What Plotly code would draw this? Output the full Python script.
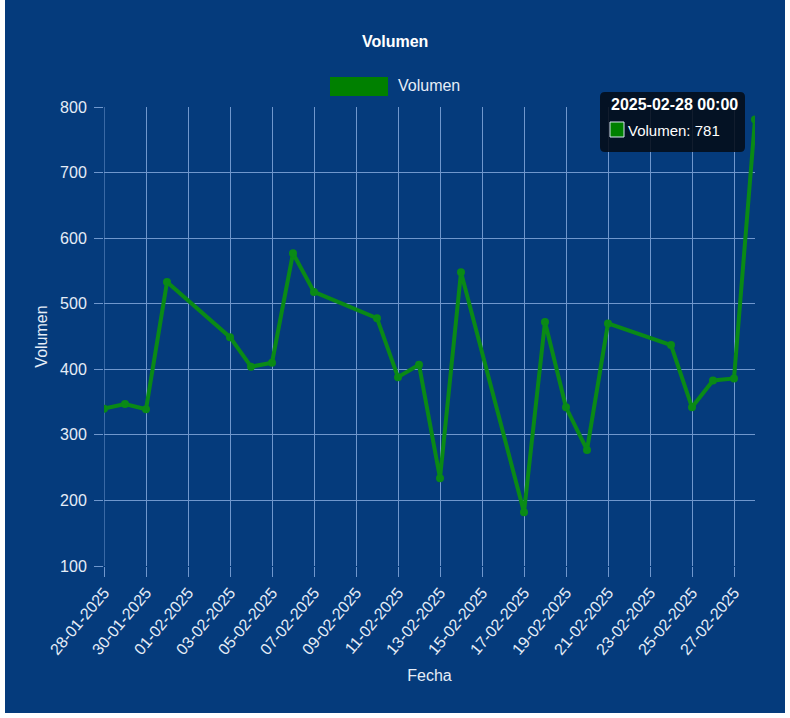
import plotly.graph_objects as go

# data
fechas = [
    "2025-01-28", "2025-01-29", "2025-01-30", "2025-01-31", "2025-02-03",
    "2025-02-04", "2025-02-05", "2025-02-06", "2025-02-07", "2025-02-10",
    "2025-02-11", "2025-02-12", "2025-02-13", "2025-02-14", "2025-02-17",
    "2025-02-18", "2025-02-19", "2025-02-20", "2025-02-21", "2025-02-24",
    "2025-02-25", "2025-02-26", "2025-02-27", "2025-02-28",
]
volumen = [340, 347, 339, 533, 449, 404, 410, 577, 518, 478,
           388, 407, 234, 548, 182, 472, 342, 277, 470, 437,
           342, 383, 386, 781]
tick_fechas = [
    "2025-01-28", "2025-01-30", "2025-02-01", "2025-02-03", "2025-02-05",
    "2025-02-07", "2025-02-09", "2025-02-11", "2025-02-13", "2025-02-15",
    "2025-02-17", "2025-02-19", "2025-02-21", "2025-02-23", "2025-02-25",
    "2025-02-27",
]
tick_labels = [f"{d[8:10]}-{d[5:7]}-{d[0:4]}" for d in tick_fechas]
y_ticks = [100, 200, 300, 400, 500, 600, 700, 800]

BG = "#053b7c"
GRID = "#7097cd"
TXT = "#e6edf7"
GREEN = "#0a8a16"
FONT = "Liberation Sans, Arial, sans-serif"

W, H = 790, 718
L, R, T, B = 104, 35, 107, 152
PW, PH = W - L - R, H - T - B


def px(x):
    return (x - L) / PW


def py(y):
    return (H - B - y) / PH


fig = go.Figure()
fig.add_trace(go.Scatter(
    x=fechas, y=volumen, mode="lines+markers", name="Volumen",
    line=dict(color=GREEN, width=4), marker=dict(size=8, color=GREEN),
    showlegend=False, hoverinfo="skip",
))

shapes = []
# first vertical grid line (plotly skips the one sitting on the plot edge)
shapes.append(dict(type="line", xref="x", yref="paper",
                   x0=tick_fechas[0], x1=tick_fechas[0], y0=0, y1=1,
                   line=dict(color=GRID, width=1), layer="below"))
# legend box
shapes.append(dict(type="rect", xref="paper", yref="paper",
                   x0=px(330), x1=px(388), y0=py(96), y1=py(77),
                   fillcolor="#008000", line=dict(width=0)))


# tooltip background (rounded)
def rrect(x0, y0, x1, y1, r):
    rx, ry = r / PW, r / PH
    a, b, c, d = px(x0), px(x1), py(y1), py(y0)  # left, right, bottom, top
    return (f"M{a+rx},{d} L{b-rx},{d} Q{b},{d} {b},{d-ry} L{b},{c+ry} "
            f"Q{b},{c} {b-rx},{c} L{a+rx},{c} Q{a},{c} {a},{c+ry} "
            f"L{a},{d-ry} Q{a},{d} {a+rx},{d} Z")


shapes.append(dict(type="path", xref="paper", yref="paper",
                   path=rrect(600, 92, 745, 152, 5),
                   fillcolor="rgba(5,12,24,0.88)", line=dict(width=0), layer="above"))
shapes.append(dict(type="rect", xref="paper", yref="paper",
                   x0=px(610), x1=px(624), y0=py(137), y1=py(122),
                   fillcolor="#008000", line=dict(color="#d8e4f0", width=1), layer="above"))
# white edges of the screenshot
for x0, y0, x1, y1 in [(0, 0, 5, H), (785, 0, W, H), (0, 713, W, H)]:
    shapes.append(dict(type="rect", xref="paper", yref="paper",
                       x0=px(x0), x1=px(x1), y0=py(y1), y1=py(y0),
                       fillcolor="white", line=dict(width=0), layer="above"))


def note(text, x, y, size=16, anchor="center", color=TXT):
    return dict(text=text, x=px(x), y=py(y), xref="paper", yref="paper",
                xanchor=anchor, yanchor="middle", showarrow=False,
                font=dict(size=size, color=color, family=FONT))


annotations = [
    note("<b>Volumen</b>", 395, 41, color="white"),
    note("Volumen", 396, 86, anchor="left"),
    note("<b>2025-02-28 00:00</b>", 609, 104, anchor="left", color="white"),
    note("Volumen: 781", 626, 130, size=15, anchor="left", color="white"),
]

fig.update_layout(
    width=W, height=H,
    paper_bgcolor=BG, plot_bgcolor=BG,
    margin=dict(l=L, r=R, t=T, b=B),
    font=dict(family=FONT, color=TXT, size=16),
    shapes=shapes, annotations=annotations,
    xaxis=dict(
        type="date", range=["2025-01-28", "2025-02-28"],
        tickvals=tick_fechas, ticktext=tick_labels, tickangle=-50,
        showgrid=True, gridcolor=GRID, gridwidth=1, zeroline=False,
        ticks="outside", ticklen=10, tickcolor=GRID, showline=False,
        tickfont=dict(size=16, color=TXT),
        title=dict(text="Fecha", font=dict(size=16, color=TXT), standoff=12),
    ),
    yaxis=dict(
        range=[100, 800], tickvals=y_ticks,
        showgrid=True, gridcolor=GRID, gridwidth=1, zeroline=False,
        ticks="outside", ticklen=9, tickcolor=GRID, showline=False,
        ticklabelstandoff=4,
        tickfont=dict(size=16, color=TXT),
        title=dict(text="Volumen", font=dict(size=16, color=TXT), standoff=8),
    ),
)

fig.write_html(
    "out.html",
    config={"displayModeBar": False},
    post_script="document.body.style.margin='0';document.body.style.overflow='hidden';",
)
